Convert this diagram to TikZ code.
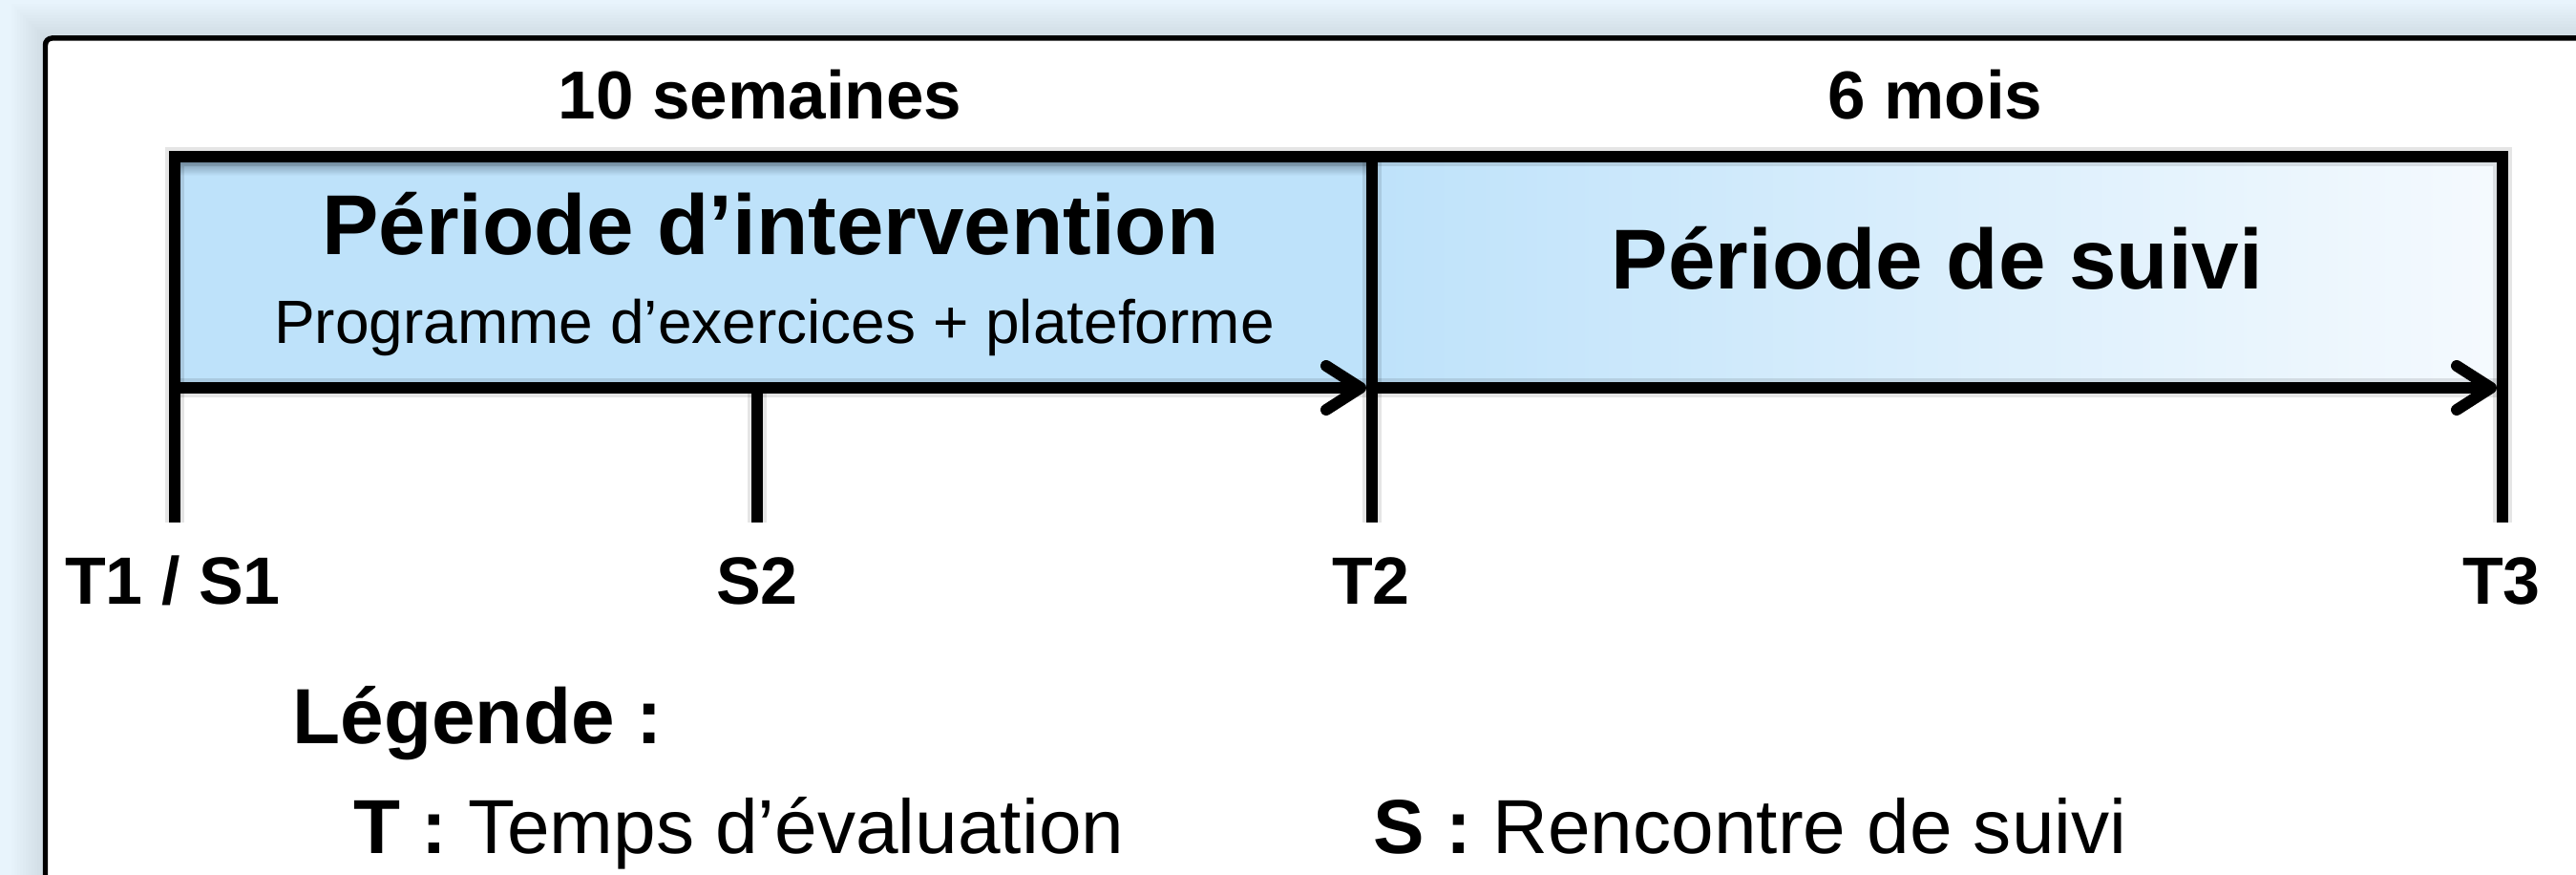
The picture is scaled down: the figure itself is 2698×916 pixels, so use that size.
\documentclass[tikz,border=0pt]{standalone}
\usepackage{fontspec}
\setmainfont{Liberation Sans}
\usetikzlibrary{arrows.meta}
\definecolor{bgblue}{RGB}{232,244,252}
\definecolor{boxblue}{RGB}{190,226,250}
\definecolor{paleblue}{RGB}{245,250,254}
\definecolor{bandblue}{RGB}{128,156,178}
\tikzset{
  x=0.01cm, y=-0.01cm,
  thickline/.style={line width=3.4pt, black},
  haloline/.style={line width=5.6pt, black, opacity=0.10},
  timearrow/.style={thickline, -{Straight Barb[length=0.36cm,width=0.46cm,round]}, shorten >=0.06cm},
  txt/.style={inner sep=0pt, anchor=base, text=black},
  bigtitle/.style={txt, font=\fontsize{25.3}{30}\selectfont\bfseries},
  subtitle/.style={txt, font=\fontsize{18.2}{22}\selectfont},
  durlabel/.style={txt, font=\fontsize{20.2}{24}\selectfont\bfseries},
  ticklabel/.style={txt, font=\fontsize{19.9}{24}\selectfont\bfseries},
  legtitle/.style={txt, anchor=base west, font=\fontsize{23.3}{28}\selectfont\bfseries},
  legitem/.style={txt, anchor=base west, font=\fontsize{22.8}{27}\selectfont},
}
\begin{document}
\begin{tikzpicture}
\useasboundingbox (0,0) rectangle (2698,916);
\clip (0,0) rectangle (2698,916);
% background and panel shadow
\fill[bgblue] (0,0) rectangle (2698,916);
\foreach \i in {1,...,12}
  \fill[black, opacity=0.008] (47.5-3*\i,40-3*\i) rectangle (2750,960);
\fill[white] (47.5,40) rectangle (2750,960);
\draw[line width=1.56pt, rounded corners=2pt] (2750,40) -- (47.5,40) -- (47.5,960);

% named points of the timeline
\coordinate (tl) at (183,164);
\coordinate (tr) at (2621,164);
\coordinate (dt) at (1437,164);
\coordinate (t1) at (183,406);
\coordinate (s2) at (793,406);
\coordinate (t2) at (1437,406);
\coordinate (t3) at (2621,406);
\coordinate (t1b) at (183,547);
\coordinate (s2b) at (793,547);
\coordinate (t2b) at (1437,547);
\coordinate (t3b) at (2621,547);

% period fills
\fill[boxblue] (tl) rectangle (t2);
\shade[left color=boxblue, right color=paleblue] (dt) rectangle (t3);
\shade[top color=bandblue, bottom color=boxblue] (189,170) rectangle (1431,184);

% halo shadows
\begin{scope}[shift={(2,4)}]
\draw[haloline] (t1b) -- (tl) -- (tr) -- (t3b);
\draw[haloline] (dt) -- (t2b);
\draw[haloline] (s2) -- (s2b);
\draw[haloline] (t1) -- (t3);
\end{scope}

% structure
\draw[thickline, line join=miter] (t1b) -- (tl) -- (tr) -- (t3b);
\draw[thickline] (dt) -- (t2b);
\draw[thickline] (s2) -- (s2b);
\draw[timearrow] (t1) -- (t2);
\draw[timearrow] (t2) -- (t3);

% texts
\node[durlabel] (dur1) at (796,125) {10 semaines};
\node[durlabel] (dur2) at (2027,125) {6 mois};
\node[bigtitle] (inter) at (807,267) {Période d’intervention};
\node[subtitle] (prog) at (811,360) {Programme d’exercices + plateforme};
\node[bigtitle] (suivi) at (2029,303) {Période de suivi};

\node[ticklabel] (lt1) at (181,633) {T1 / S1};
\node[ticklabel] (ls2) at (793,633) {S2};
\node[ticklabel] (lt2) at (1436,633) {T2};
\node[ticklabel] (lt3) at (2620,633) {T3};

\node[legtitle] (leg) at (306,778) {Légende :};
\node[legitem] (legT) at (370,893) {\textbf{T :} Temps d’évaluation};
\node[legitem] (legS) at (1438,893) {\textbf{S :} Rencontre de suivi};
\end{tikzpicture}
\end{document}
